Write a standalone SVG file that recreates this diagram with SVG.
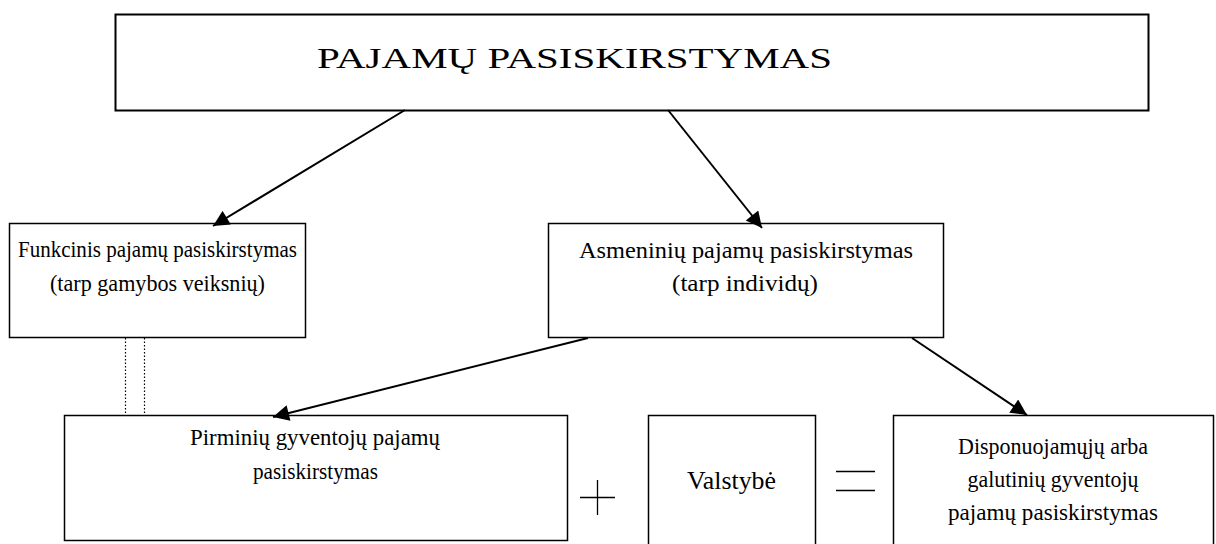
<svg xmlns="http://www.w3.org/2000/svg" width="1216" height="544" viewBox="0 0 1216 544">
<style>
.box{fill:#fff;stroke:#000;stroke-width:1.5}
.c{stroke:#000;stroke-width:2;fill:none}
.dot{stroke:#000;stroke-width:1.2;stroke-dasharray:1.5 2;fill:none}
.sym{stroke:#000;stroke-width:1.3;fill:none}
</style>
<defs>
<marker id="ah" viewBox="0 0 10 10" refX="10" refY="5" markerWidth="9" markerHeight="8" markerUnits="strokeWidth" orient="auto">
<path d="M0,0 L10,5 L0,10 Z" fill="#000"/>
</marker>
</defs>
<rect width="1216" height="544" fill="#fff"/>
<g font-family="'Liberation Serif', 'Times New Roman', serif" font-size="22" fill="#000" text-anchor="middle">
<g id="n-top"><rect class="box" x="115.5" y="14.5" width="1033" height="96" style="stroke-width:2"/><text x="574.5" y="68" font-size="30" textLength="515" lengthAdjust="spacingAndGlyphs">PAJAMŲ PASISKIRSTYMAS</text></g>
<g id="n-funk"><rect class="box" x="9.5" y="223.5" width="296" height="114"/><text x="157.5" y="257" font-size="23" textLength="279" lengthAdjust="spacingAndGlyphs">Funkcinis pajamų pasiskirstymas</text><text x="157.5" y="291" font-size="23" textLength="215" lengthAdjust="spacingAndGlyphs">(tarp gamybos veiksnių)</text></g>
<g id="n-asm"><rect class="box" x="548.5" y="223.5" width="395" height="114"/><text x="746" y="258" font-size="24" textLength="334" lengthAdjust="spacingAndGlyphs">Asmeninių pajamų pasiskirstymas</text><text x="745" y="291" font-size="24" textLength="146" lengthAdjust="spacingAndGlyphs">(tarp individų)</text></g>
<g id="n-pirm"><rect class="box" x="64.5" y="415.5" width="503" height="125"/><text x="315" y="445" font-size="23" textLength="250" lengthAdjust="spacingAndGlyphs">Pirminių gyventojų pajamų</text><text x="315.5" y="479" font-size="23" textLength="125" lengthAdjust="spacingAndGlyphs">pasiskirstymas</text></g>
<g id="n-val"><rect class="box" x="648.5" y="415.5" width="167" height="140"/><text x="731.5" y="489" font-size="25" textLength="89" lengthAdjust="spacingAndGlyphs">Valstybė</text></g>
<g id="n-disp"><rect class="box" x="893.5" y="415.5" width="320" height="140"/><text x="1053" y="454" font-size="23" textLength="190" lengthAdjust="spacingAndGlyphs">Disponuojamųjų arba</text><text x="1053" y="487" font-size="23" textLength="171" lengthAdjust="spacingAndGlyphs">galutinių gyventojų</text><text x="1053" y="520" font-size="23" textLength="210" lengthAdjust="spacingAndGlyphs">pajamų pasiskirstymas</text></g>
</g>
<g id="connectors">
<line class="c" x1="405" y1="110" x2="213" y2="226" marker-end="url(#ah)"/>
<line class="c" x1="668" y1="110" x2="762" y2="228" marker-end="url(#ah)"/>
<line class="c" x1="588" y1="338" x2="273" y2="417" marker-end="url(#ah)"/>
<line class="c" x1="912" y1="338" x2="1027" y2="415" marker-end="url(#ah)"/>
<line class="dot" x1="125.5" y1="338" x2="125.5" y2="415"/>
<line class="dot" x1="144.5" y1="338" x2="144.5" y2="415"/>
</g>
<g id="ops">
<line class="sym" x1="580" y1="497.5" x2="615" y2="497.5"/>
<line class="sym" x1="597.5" y1="480" x2="597.5" y2="515"/>
<line class="sym" x1="836" y1="471.5" x2="875" y2="471.5"/>
<line class="sym" x1="836" y1="490.5" x2="875" y2="490.5"/>
</g>
</svg>
